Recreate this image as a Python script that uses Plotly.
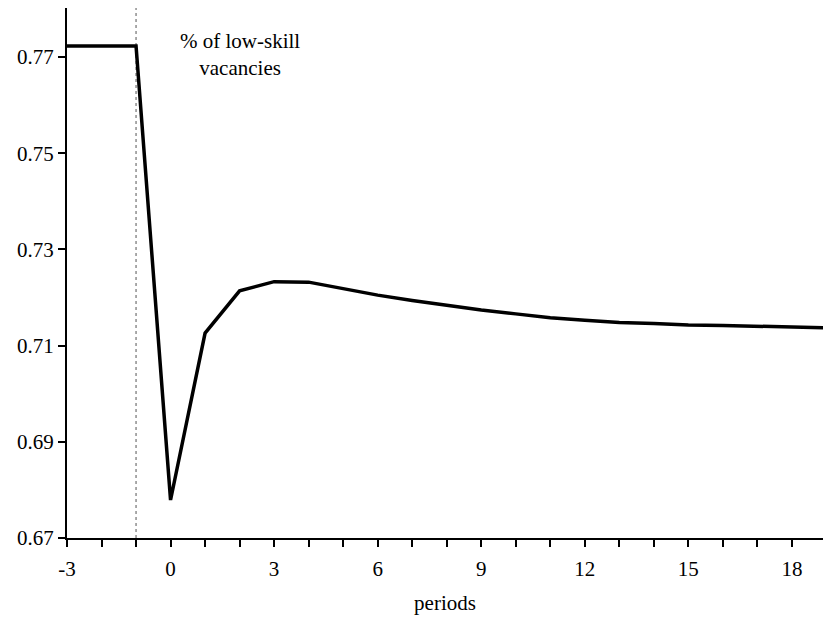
import plotly.graph_objects as go

periods = list(range(-3, 20))
low_skill_share = [0.7723, 0.7723, 0.7723, 0.6779, 0.7126, 0.7214, 0.7233, 0.7232,
                   0.7219, 0.7205, 0.7194, 0.7184, 0.7174, 0.7166, 0.7158, 0.7153,
                   0.7148, 0.7146, 0.7143, 0.7142, 0.7140, 0.7138, 0.7137]
x_tickvals = [-3, 0, 3, 6, 9, 12, 15, 18]
x_ticktext = ["-3", "0", "3", "6", "9", "12", "15", "18"]
y_tickvals = [0.67, 0.69, 0.71, 0.73, 0.75, 0.77]
y_ticktext = ["0.67", "0.69", "0.71", "0.73", "0.75", "0.77"]
shock_period = -1
label_text = "% of low-skill<br>vacancies"

FONT = "Liberation Serif"
fnt = dict(family=FONT, size=21, color="black")

fig = go.Figure()
fig.add_trace(go.Scatter(x=periods, y=low_skill_share, mode="lines",
                         line=dict(color="black", width=3.5), showlegend=False))

fig.add_shape(type="line", x0=shock_period, x1=shock_period, y0=0, y1=1,
              xref="x", yref="paper", line=dict(color="#555555", width=1, dash="dot"),
              layer="below")

fig.add_annotation(x=2.0, y=0.7705, xref="x", yref="y", text=label_text,
                   showarrow=False, font=fnt, align="center", yanchor="middle")

fig.update_layout(
    width=823, height=623,
    margin=dict(l=67, r=0, t=8, b=85),
    paper_bgcolor="white", plot_bgcolor="white",
    font=fnt,
    xaxis=dict(range=[-3, 18.9], tickvals=x_tickvals, ticktext=x_ticktext,
               ticks="outside", ticklen=7, tickfont=fnt, ticklabelstandoff=4,
               tickwidth=2, tickcolor="black", showline=True, linecolor="black",
               linewidth=2, showgrid=False, zeroline=False,
               minor=dict(dtick=1, tick0=-3, ticks="outside", ticklen=7, tickwidth=2,
                          tickcolor="black", showgrid=False),
               title=dict(text="periods", font=fnt, standoff=15)),
    yaxis=dict(range=[0.67, 0.7802], tickvals=y_tickvals, ticktext=y_ticktext,
               tickfont=fnt,
               ticks="outside", ticklen=7, tickwidth=2, tickcolor="black",
               showline=True, linecolor="black", linewidth=2, showgrid=False,
               zeroline=False),
)

fig.write_html("out.html")
